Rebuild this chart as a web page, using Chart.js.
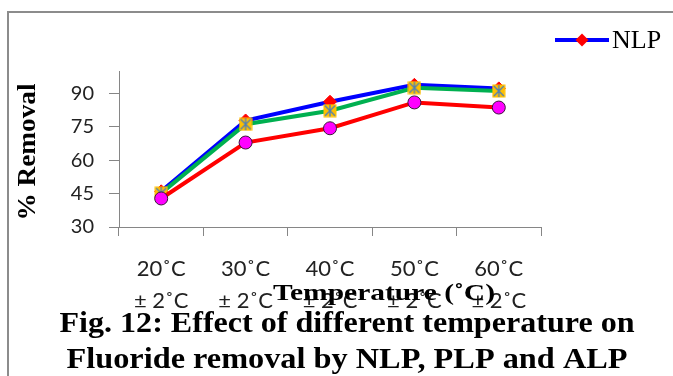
<!DOCTYPE html>
<html>
<head>
<meta charset="utf-8">
<script src="https://cdn.jsdelivr.net/npm/chart.js@4/dist/chart.umd.min.js"></script>
<style>
  html, body { margin: 0; padding: 0; background: #fff; }
  #wrap { position: relative; width: 673px; height: 376px; overflow: hidden; }
  canvas { display: block; }
</style>
</head>
<body>
<div id="wrap"><canvas id="c" width="673" height="376"></canvas></div>
<script>
// Temperatures tested (each ± 2 °C)
const temperatures = ['20˚C', '30˚C', '40˚C', '50˚C', '60˚C'];
const tolerance = '± 2˚C';

// % fluoride removal for each adsorbent
const nlpRemoval = [46.0, 77.8, 86.2, 93.8, 92.2];
const plpRemoval = [45.2, 76.1, 82.2, 92.5, 91.0];
const alpRemoval = [42.8, 67.9, 74.3, 85.9, 83.6];

// Y axis range and tick step
const yMin = 30, yMax = 100, yStep = 15;

const yTitle = '% Removal';
const xTitle = 'Temperature (˚C)';
const caption = ['Fig. 12: Effect of different temperature on', 'Fluoride removal by NLP, PLP and ALP'];

// Yellow square marker with a star drawn over it
function starSquare() {
  const s = 14;
  const cv = document.createElement('canvas');
  cv.width = s; cv.height = s;
  const g = cv.getContext('2d');
  g.fillStyle = '#FFC000';
  g.fillRect(0.5, 0.5, s - 1, s - 1);
  g.strokeStyle = '#4A7EBB';
  g.lineWidth = 1.3;
  g.beginPath();
  g.moveTo(2, 2); g.lineTo(s - 2, s - 2);
  g.moveTo(s - 2, 2); g.lineTo(2, s - 2);
  g.moveTo(s / 2, 1); g.lineTo(s / 2, s - 1);
  g.stroke();
  return cv;
}

// Draw text centred on (cx, y), stretched to a given width
function fitText(ctx, text, cx, y, width) {
  const w = ctx.measureText(text).width;
  ctx.save();
  ctx.translate(cx, y);
  ctx.scale(width / w, 1);
  ctx.textAlign = 'center';
  ctx.fillText(text, 0, 0);
  ctx.restore();
}

const labels = temperatures.map(t => [t, tolerance]);

const textPlugin = {
  id: 'texts',
  beforeDraw(chart) {
    const ctx = chart.ctx;
    ctx.save();
    ctx.strokeStyle = '#8c8c8c';
    ctx.lineWidth = 2;
    ctx.beginPath();
    ctx.moveTo(8, 376);
    ctx.lineTo(8, 12);
    ctx.lineTo(673, 12);
    ctx.stroke();
    ctx.restore();
  },
  afterDraw(chart) {
    const ctx = chart.ctx;
    ctx.save();
    ctx.fillStyle = '#000';
    ctx.textBaseline = 'middle';

    // Y axis title
    ctx.save();
    ctx.translate(28, 152);
    ctx.rotate(-Math.PI / 2);
    ctx.font = 'bold 26px "Liberation Serif"';
    fitText(ctx, yTitle, 0, 0, 137);
    ctx.restore();

    // X axis title
    ctx.textBaseline = 'alphabetic';
    ctx.font = 'bold 23px "Liberation Serif"';
    fitText(ctx, xTitle, 384, 300, 222);

    // Caption
    ctx.font = 'bold 30px "Liberation Serif"';
    fitText(ctx, caption[0], 347, 332, 575);
    fitText(ctx, caption[1], 347, 368, 561);

    // Legend entry for the first series
    const ds = chart.data.datasets[0];
    ctx.strokeStyle = ds.borderColor;
    ctx.lineWidth = ds.borderWidth;
    ctx.beginPath();
    ctx.moveTo(555, 40);
    ctx.lineTo(609, 40);
    ctx.stroke();
    ctx.fillStyle = ds.pointBackgroundColor;
    ctx.beginPath();
    ctx.moveTo(582, 40 - 6.5); ctx.lineTo(588.5, 40); ctx.lineTo(582, 40 + 6.5); ctx.lineTo(575.5, 40);
    ctx.closePath(); ctx.fill();
    ctx.fillStyle = '#000';
    ctx.textAlign = 'left';
    ctx.textBaseline = 'middle';
    ctx.font = '26px "Liberation Serif"';
    ctx.fillText(ds.label, 612, 41);
    ctx.restore();
  }
};

new Chart(document.getElementById('c'), {
  type: 'line',
  data: {
    labels: labels,
    datasets: [
      {
        label: 'NLP', data: nlpRemoval, order: 3,
        borderColor: '#0000FF', borderWidth: 4,
        pointStyle: 'rectRot', pointRadius: 6.5,
        pointBackgroundColor: '#FF0000', pointBorderColor: '#FF0000', pointBorderWidth: 1
      },
      {
        label: 'PLP', data: plpRemoval, order: 2,
        borderColor: '#00B050', borderWidth: 4,
        pointStyle: starSquare(), pointRadius: 7
      },
      {
        label: 'ALP', data: alpRemoval, order: 1,
        borderColor: '#FF0000', borderWidth: 4,
        pointStyle: 'circle', pointRadius: 6.5,
        pointBackgroundColor: '#FF00FF', pointBorderColor: '#3a1a3a', pointBorderWidth: 1
      }
    ]
  },
  options: {
    responsive: false,
    devicePixelRatio: 1,
    animation: false,
    layout: { padding: { top: 71, right: 132, left: 0, bottom: 0 } },
    plugins: { legend: { display: false }, tooltip: { enabled: false } },
    elements: { line: { tension: 0 } },
    scales: {
      x: {
        offset: true,
        grid: { display: true, offset: true, drawOnChartArea: false, tickLength: 9, color: '#868686' },
        border: { display: true, color: '#868686', width: 1 },
        ticks: {
          color: '#222', padding: 17, maxRotation: 0, autoSkip: false,
          font: { family: 'Lato', size: 22, lineHeight: 1.45 }
        },
        afterFit(scale) { scale.height = 149; }
      },
      y: {
        min: yMin, max: yMax,
        grid: { display: true, drawOnChartArea: false, tickLength: 10, color: '#868686' },
        border: { display: true, color: '#868686', width: 1 },
        ticks: {
          stepSize: yStep, color: '#222', padding: 15,
          font: { family: 'Lato', size: 20 }
        },
        afterBuildTicks(scale) { scale.ticks = scale.ticks.filter(t => (t.value - yMin) % yStep === 0); },
        afterFit(scale) { scale.width = 119; }
      }
    }
  },
  plugins: [textPlugin]
});
</script>
</body>
</html>
